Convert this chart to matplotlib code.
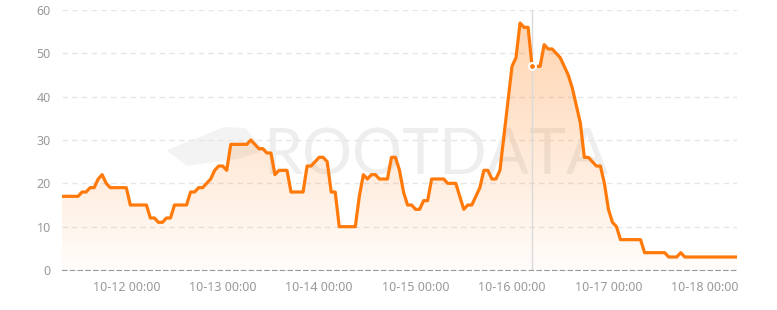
import numpy as np
import pandas as pd
import matplotlib
matplotlib.use("Agg")
import matplotlib.pyplot as plt
import matplotlib.dates as mdates
from matplotlib.patches import Polygon

# hourly values, starting 10-11 08:00
values = ([17] * 5 + [18] * 2 + [19] * 2 + [21, 22, 20] + [19] * 5 + [15] * 5
          + [12, 12, 11, 11, 12, 12] + [15] * 4 + [18, 18, 19, 19, 20, 21, 23, 24, 24, 23]
          + [29] * 5 + [30, 29, 28, 28, 27, 27, 22, 23, 23, 23] + [18] * 4
          + [24, 24, 25, 26, 26, 25, 18, 18] + [10] * 5
          + [17, 22, 21, 22, 22, 21, 21, 21, 26, 26, 23, 18, 15, 15, 14, 14, 16, 16]
          + [21] * 4 + [20] * 3 + [17, 14, 15, 15, 17, 19, 23, 23, 21, 21, 23]
          + [31, 39, 47, 49, 57, 56, 56, 47, 47, 47, 52, 51, 51, 50, 49, 47, 45, 42, 38, 34]
          + [26, 26, 25, 24, 24, 20, 14, 11, 10] + [7] * 6 + [4] * 6 + [3] * 3 + [4]
          + [3] * 14)
times = pd.date_range("2024-10-11 08:00", periods=len(values), freq="h")
tick_days = pd.date_range("2024-10-12", "2024-10-18", freq="D")
y_ticks = [0, 10, 20, 30, 40, 50, 60]
hover_index = 117

line_color = "#FF7A0A"
text_color = "#999999"

plt.rcParams["font.family"] = ["Noto Sans", "DejaVu Sans"]

fig = plt.figure(figsize=(7.77, 3.10), dpi=100)
ax = fig.add_axes([62 / 777, 40 / 310, 675 / 777, 260 / 310])

x = mdates.date2num(times)
y = np.array(values, float)

# watermark
ax.text(0.554, 0.435, "ROOTDATA", transform=ax.transAxes, ha="center", va="center",
        fontsize=45, color="#EEEEEE", family="Lato", zorder=0.5)
logo = Polygon([[0.155, 0.46], [0.24, 0.55], [0.272, 0.545], [0.30, 0.46],
                [0.265, 0.43], [0.185, 0.40]], closed=True, transform=ax.transAxes,
               facecolor="#F3F3F3", edgecolor="none", zorder=0.4)
ax.add_patch(logo)

# gradient fill under the line
ymax = y.max()
alpha = np.linspace(0.32, 0.02, 256)[:, None]
rgba = np.zeros((256, 1, 4))
rgba[..., 0] = 1.0
rgba[..., 1] = 122 / 255
rgba[..., 2] = 10 / 255
rgba[..., 3] = alpha
poly = ax.fill_between(x, y, 0, facecolor="none", edgecolor="none")
img = ax.imshow(rgba, extent=[x[0], x[-1], 0, ymax], aspect="auto", origin="upper", zorder=1)
path = poly.get_paths()[0]
img.set_clip_path(path, transform=ax.transData)

ax.plot(x, y, color=line_color, lw=2.3, solid_joinstyle="round", zorder=3)

# hover crosshair
ax.axvline(x[hover_index], color="#DADADA", lw=1, zorder=2)
ax.plot(x[hover_index], y[hover_index], "o", ms=5, mfc=line_color, mec="white", mew=1.5, zorder=4)

ax.set_xlim(x[0], x[-1])
ax.set_ylim(0, 60)
ax.set_yticks(y_ticks)
ax.set_xticks(mdates.date2num(tick_days))
ax.xaxis.set_major_formatter(mdates.DateFormatter("%m-%d %H:%M"))
ax.tick_params(length=0, labelsize=9, colors=text_color, pad=8)
ax.grid(axis="y", color="#E6E6E6", ls=(0, (4, 3)), lw=1)
ax.set_axisbelow(True)
for side in ["top", "right", "left"]:
    ax.spines[side].set_visible(False)
ax.spines["bottom"].set_color("#9A9A9A")
ax.spines["bottom"].set_linestyle((0, (4, 3)))
ax.spines["bottom"].set_zorder(2.5)

fig.savefig("out.png", dpi=100)
